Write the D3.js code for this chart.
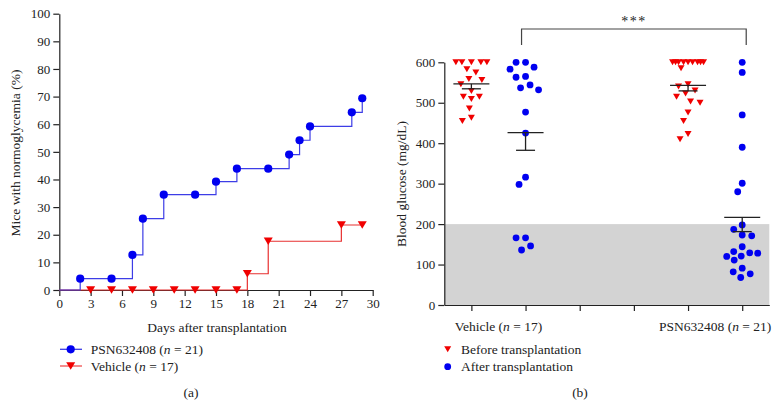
<!DOCTYPE html>
<html><head><meta charset="utf-8">
<script src="https://cdn.jsdelivr.net/npm/d3@7"></script>
<style>
body{margin:0;background:#fff;}
svg text{font-family:"Liberation Serif","Times New Roman",serif;fill:#222;}
</style></head>
<body><svg id="c" width="777" height="418"></svg>
<script>
// ---------- Panel (a) data ----------
const psnDays = [0, 2, 5, 7, 8, 10, 13, 15, 17, 20, 22, 23, 24, 28, 29];
const psnPct  = [0, 4.1, 4.1, 12.7, 25.8, 34.5, 34.5, 39.2, 43.9, 43.9, 49.0, 54.2, 59.2, 64.3, 69.4];
const vehDays = [0, 3, 5, 7, 9, 11, 13, 15, 17, 18, 20, 27, 29];
const vehPct  = [0, 0, 0, 0, 0, 0, 0, 0, 0, 5.88, 17.65, 23.53, 23.53];
const xTicksA = [0, 3, 6, 9, 12, 15, 18, 21, 24, 27, 30];
const yTicksA = [0, 10, 20, 30, 40, 50, 60, 70, 80, 90, 100];

// ---------- Panel (b) data ----------
const groupLabels = ["Vehicle", "PSN632408"];
const groupN = [17, 21];
const vehBefore = [600, 600, 600, 600, 600, 583, 575, 559, 556, 546, 529, 515, 515, 509, 486, 463, 455];
const vehAfter  = [600, 600, 588, 583, 565, 563, 544, 537, 532, 477, 425, 316, 298, 166, 166, 146, 136];
const psnBefore = [600, 600, 600, 600, 600, 600, 600, 600, 600, 585, 546, 540, 530, 523, 515, 503, 500, 476, 455, 423, 410];
const psnAfter  = [600, 575, 470, 390, 301, 280, 198, 187, 173, 171, 144, 132, 129, 128, 121, 120, 111, 91, 82, 77, 68];
const yTicksB = [0, 100, 200, 300, 400, 500, 600];
const normoThreshold = 200;

const BLUE = "#0000f0", RED = "#f00000";
const svg = d3.select("#c");

// ================= Panel (a) =================
const xA = d3.scaleLinear().domain([0, 30]).range([59.3, 372.7]);
const yA = d3.scaleLinear().domain([0, 100]).range([290, 13.7]);
const gA = svg.append("g");

const axXA = gA.append("g").attr("transform", `translate(0,${yA(0)})`)
  .call(d3.axisBottom(xA).tickValues(xTicksA).tickSize(6).tickSizeOuter(0).tickPadding(3));
const axYA = gA.append("g").attr("transform", `translate(${xA(0)},0)`)
  .call(d3.axisLeft(yA).tickValues(yTicksA).tickSize(6).tickSizeOuter(0).tickPadding(3));
[axXA, axYA].forEach(a => {
  a.selectAll("text").style("font-size", "13px").attr("fill", "#222");
  a.selectAll("path,line").attr("stroke", "#222").attr("stroke-width", 1.2);
});

const lineA = d3.line().curve(d3.curveStepAfter).x(d => xA(d[0])).y(d => yA(d[1]));
const vehPts = vehDays.map((d, i) => [d, vehPct[i]]);
const psnPts = psnDays.map((d, i) => [d, psnPct[i]]);
gA.append("path").attr("d", lineA(vehPts)).attr("fill", "none").attr("stroke", "#e83030").attr("stroke-width", 1.2);
gA.append("path").attr("d", lineA(psnPts)).attr("fill", "none").attr("stroke", "#3d3de6").attr("stroke-width", 1.2);

const tri = (w, h) => `M${-w/2},${-h/2}L${w/2},${-h/2}L0,${h/2}Z`;
gA.selectAll(".vm").data(vehPts.slice(1)).join("path")
  .attr("d", tri(9, 7.5)).attr("fill", RED)
  .attr("transform", d => `translate(${xA(d[0])},${yA(d[1])})`);
gA.selectAll(".pm").data(psnPts.slice(1)).join("circle")
  .attr("cx", d => xA(d[0])).attr("cy", d => yA(d[1])).attr("r", 4.1).attr("fill", BLUE);

gA.append("text").attr("x", 15).attr("y", 153).attr("transform", "rotate(-90,15,153)")
  .attr("text-anchor", "middle").attr("dominant-baseline", "central").style("font-size", "13.5px")
  .text("Mice with normoglycemia (%)");
gA.append("text").attr("x", 217).attr("y", 332).attr("text-anchor", "middle").style("font-size", "13.5px")
  .text("Days after transplantation");

// legend (a)
const legA = [{name: groupLabels[1], n: groupN[1], c: BLUE, lc: "#3d3de6", shape: "c", y: 349.3},
              {name: groupLabels[0], n: groupN[0], c: RED, lc: "#f05050", shape: "t", y: 366}];
legA.forEach(l => {
  gA.append("line").attr("x1", 60).attr("x2", 82).attr("y1", l.y).attr("y2", l.y).attr("stroke", l.lc).attr("stroke-width", 1.3);
  if (l.shape === "c") gA.append("circle").attr("cx", 70.7).attr("cy", l.y).attr("r", 4.1).attr("fill", l.c);
  else gA.append("path").attr("d", tri(9, 7.5)).attr("fill", l.c).attr("transform", `translate(70.7,${l.y})`);
  const t = gA.append("text").attr("x", 90.7).attr("y", l.y).attr("dominant-baseline", "central").style("font-size", "13.5px");
  t.append("tspan").text(`${l.name} (`);
  t.append("tspan").style("font-style", "italic").text("n");
  t.append("tspan").text(` = ${l.n})`);
});
gA.append("text").attr("x", 191).attr("y", 392.3).attr("text-anchor", "middle").attr("dominant-baseline", "central")
  .style("font-size", "13.5px").text("(a)");

// ================= Panel (b) =================
const slots = [0, 1, 2, 3, 4, 5];
const xB = d3.scalePoint().domain(slots).range([444.3, 769.3]).padding(0.5);
const yB = d3.scaleLinear().domain([0, 600]).range([305, 62.3]);
const gB = svg.append("g");

gB.append("rect").attr("x", 444.3).attr("y", yB(normoThreshold)).attr("width", 769.3 - 444.3)
  .attr("height", yB(0) - yB(normoThreshold)).attr("fill", "#d3d3d3");

const axXB = gB.append("g").attr("transform", `translate(0,${yB(0)})`)
  .call(d3.axisBottom(xB).tickValues(slots).tickSize(6).tickSizeOuter(0).tickFormat(""));
const axYB = gB.append("g").attr("transform", `translate(444.3,0)`)
  .call(d3.axisLeft(yB).tickValues(yTicksB).tickSize(6).tickSizeOuter(0).tickPadding(3));
[axXB, axYB].forEach(a => {
  a.selectAll("text").style("font-size", "13px").attr("fill", "#222");
  a.selectAll("path,line").attr("stroke", "#222").attr("stroke-width", 1.2);
});

gB.append("text").attr("x", 401).attr("y", 184).attr("transform", "rotate(-90,401,184)")
  .attr("text-anchor", "middle").attr("dominant-baseline", "central").style("font-size", "13.5px")
  .text("Blood glucose (mg/dL)");

groupLabels.forEach((g, i) => {
  const cx = (xB(i * 4) + xB(i * 4 + 1)) / 2;
  const t = gB.append("text").attr("x", cx).attr("y", 326).attr("text-anchor", "middle")
    .attr("dominant-baseline", "central").style("font-size", "13.5px");
  t.append("tspan").text(`${g} (`);
  t.append("tspan").style("font-style", "italic").text("n");
  t.append("tspan").text(` = ${groupN[i]})`);
});

// beeswarm placement
function swarm(vals, cx, d, maxW) {
  const placed = [];
  const sorted = vals.slice().sort((a, b) => b - a);
  const cands = [0];
  for (let k = 0.5; k <= maxW; k += 0.5) { cands.push(-k, k); }
  sorted.forEach(v => {
    const y = yB(v);
    let best = null, bestScore = -1;
    for (const off of cands) {
      let minD = Infinity;
      placed.forEach(p => { minD = Math.min(minD, Math.hypot(p.x - (cx + off), p.y - y)); });
      if (minD >= d) { best = off; bestScore = Infinity; break; }
      if (minD > bestScore + 0.01) { bestScore = minD; best = off; }
    }
    placed.push({x: cx + best, y, v});
  });
  return placed;
}

const groupsB = [
  {vals: vehBefore, slot: 0, shape: "t"},
  {vals: vehAfter, slot: 1, shape: "c"},
  {vals: psnBefore, slot: 4, shape: "t"},
  {vals: psnAfter, slot: 5, shape: "c"}
];
groupsB.forEach(g => {
  const cx = xB(g.slot);
  const pts = swarm(g.vals, cx, 9.5, 15.5);
  if (g.shape === "t") {
    gB.selectAll(null).data(pts).join("path").attr("d", tri(7, 6)).attr("fill", RED)
      .attr("transform", p => `translate(${p.x},${p.y})`);
  } else {
    gB.selectAll(null).data(pts).join("circle").attr("cx", p => p.x).attr("cy", p => p.y)
      .attr("r", 3.4).attr("fill", BLUE);
  }
  const m = d3.mean(g.vals), sem = d3.deviation(g.vals) / Math.sqrt(g.vals.length);
  gB.append("line").attr("x1", cx - 18).attr("x2", cx + 18).attr("y1", yB(m)).attr("y2", yB(m))
    .attr("stroke", "#222").attr("stroke-width", 1.3);
  gB.append("line").attr("x1", cx).attr("x2", cx).attr("y1", yB(m)).attr("y2", yB(m - sem))
    .attr("stroke", "#222").attr("stroke-width", 1.3);
  gB.append("line").attr("x1", cx - 9.5).attr("x2", cx + 9.5).attr("y1", yB(m - sem)).attr("y2", yB(m - sem))
    .attr("stroke", "#222").attr("stroke-width", 1.3);
});

// significance bracket
const bx1 = xB(1) - 4, bx2 = xB(5) + 4;
gB.append("path").attr("d", `M${bx1},45V29H${bx2}V45`).attr("fill", "none").attr("stroke", "#444").attr("stroke-width", 1.2);
gB.append("text").attr("x", (bx1 + bx2) / 2).attr("y", 26).attr("text-anchor", "middle")
  .style("font-size", "14px").style("letter-spacing", "1.5px").text("***");

// legend (b)
gB.append("path").attr("d", tri(7, 6)).attr("fill", RED).attr("transform", "translate(447.7,349.3)");
gB.append("circle").attr("cx", 447.7).attr("cy", 366.7).attr("r", 3.4).attr("fill", BLUE);
gB.append("text").attr("x", 461).attr("y", 349.3).attr("dominant-baseline", "central").style("font-size", "13.5px").text("Before transplantation");
gB.append("text").attr("x", 461).attr("y", 366.7).attr("dominant-baseline", "central").style("font-size", "13.5px").text("After transplantation");
gB.append("text").attr("x", 580).attr("y", 392.3).attr("text-anchor", "middle").attr("dominant-baseline", "central")
  .style("font-size", "13.5px").text("(b)");
</script></body></html>
